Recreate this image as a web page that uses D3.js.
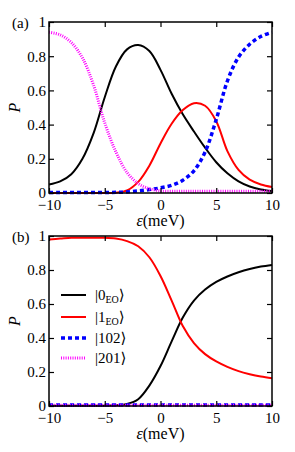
<!DOCTYPE html>
<html>
<head>
<meta charset="utf-8">
<script src="https://cdn.jsdelivr.net/npm/d3@7"></script>
<style>
  body { margin: 0; background: #fff; }
  svg text { font-family: 'Liberation Serif', 'Times New Roman', 'DejaVu Serif', serif !important; fill: #000; }
</style>
</head>
<body>
<div id="vis"></div>
<script>
// detuning values (meV)
var eps = [-10, -9, -8, -7, -6, -5, -4, -3, -2, -1, 0, 1, 2, 3, 4, 5, 6, 7, 8, 9, 10];

// panel (a)
var a0EO = [0.05, 0.068, 0.11, 0.2, 0.35, 0.56, 0.74, 0.84, 0.865, 0.83, 0.72, 0.58, 0.46, 0.36, 0.265, 0.18, 0.115, 0.068, 0.038, 0.021, 0.012];
var a1EO = [0, 0, 0, 0, 0, 0, 0.002, 0.015, 0.065, 0.16, 0.29, 0.405, 0.485, 0.525, 0.51, 0.42, 0.245, 0.135, 0.078, 0.05, 0.035];
var a102 = [0.003, 0.003, 0.003, 0.003, 0.003, 0.003, 0.004, 0.006, 0.012, 0.02, 0.03, 0.045, 0.075, 0.13, 0.24, 0.43, 0.655, 0.795, 0.87, 0.915, 0.94];
var a201 = [0.94, 0.925, 0.88, 0.79, 0.63, 0.41, 0.24, 0.12, 0.055, 0.025, 0.012, 0.01, 0.01, 0.01, 0.01, 0.01, 0.01, 0.01, 0.01, 0.01, 0.01];

// panel (b)
var b0EO = [0.002, 0.002, 0.002, 0.002, 0.002, 0.002, 0.004, 0.012, 0.04, 0.12, 0.235, 0.38, 0.52, 0.62, 0.685, 0.73, 0.762, 0.787, 0.806, 0.82, 0.83];
var b1EO = [0.98, 0.985, 0.99, 0.99, 0.99, 0.99, 0.985, 0.97, 0.94, 0.875, 0.765, 0.62, 0.47, 0.37, 0.305, 0.262, 0.23, 0.205, 0.187, 0.173, 0.163];
var b102 = [0.006, 0.006, 0.006, 0.006, 0.006, 0.006, 0.006, 0.006, 0.006, 0.006, 0.006, 0.006, 0.006, 0.006, 0.006, 0.006, 0.006, 0.006, 0.006, 0.006, 0.006];
var b201 = [0.005, 0.005, 0.005, 0.005, 0.005, 0.005, 0.005, 0.005, 0.005, 0.005, 0.005, 0.005, 0.005, 0.005, 0.005, 0.005, 0.005, 0.005, 0.005, 0.005, 0.005];

var xTicks = [-10, -5, 0, 5, 10];
var yTicks = [0, 0.2, 0.4, 0.6, 0.8, 1];
var legendNames = ['0', '1', '102', '201'];

var serif = "'Liberation Serif', 'Times New Roman', 'DejaVu Serif', serif";

var styles = [
    {color: '#000', width: 2, dash: null},
    {color: '#f00', width: 2, dash: null},
    {color: '#00f', width: 3.5, dash: '4,3'},
    {color: '#f0f', width: 3, dash: '1,1.3'}
];

var svg = d3.select('#vis').append('svg')
    .attr('width', 295)
    .attr('height', 452)
    .attr('font-family', serif);

var x = d3.scaleLinear().domain([-10, 10]).range([49, 272]);

function panel(top, bottom, label, series) {
    var y = d3.scaleLinear().domain([0, 1]).range([bottom, top]);
    var g = svg.append('g');

    var line = d3.line()
        .x((d, i) => x(eps[i]))
        .y(d => y(d))
        .curve(d3.curveCatmullRom.alpha(0.5));

    series.forEach(function(s, k) {
        var st = styles[k];
        g.append('path')
            .attr('d', line(s))
            .attr('fill', 'none')
            .attr('stroke', st.color)
            .attr('stroke-width', st.width)
            .attr('stroke-dasharray', st.dash);
    });

    // ticks on all four sides, inward
    g.append('g')
        .attr('transform', 'translate(0,' + bottom + ')')
        .call(d3.axisBottom(x).tickValues(xTicks).tickSize(-5).tickPadding(6).tickFormat(d3.format('d')));
    g.append('g')
        .attr('transform', 'translate(0,' + top + ')')
        .call(d3.axisTop(x).tickValues(xTicks).tickSize(-5).tickFormat(''));
    g.append('g')
        .attr('transform', 'translate(' + x(-10) + ',0)')
        .call(d3.axisLeft(y).tickValues(yTicks).tickSize(-5).tickPadding(3).tickFormat(d => d === 0 || d === 1 ? d : d3.format('.1f')(d)));
    g.append('g')
        .attr('transform', 'translate(' + x(10) + ',0)')
        .call(d3.axisRight(y).tickValues(yTicks).tickSize(-5).tickFormat(''));

    g.selectAll('.domain').remove();
    g.selectAll('g').attr('font-family', serif).attr('font-size', 15);
    g.selectAll('.tick line').attr('stroke', '#000').attr('stroke-width', 1.2);
    g.selectAll('.tick text').attr('fill', '#000');

    g.append('rect')
        .attr('x', x(-10)).attr('y', top)
        .attr('width', x(10) - x(-10)).attr('height', bottom - top)
        .attr('fill', 'none').attr('stroke', '#000').attr('stroke-width', 1.5);

    g.append('text').attr('x', 12).attr('y', top + 6)
        .attr('font-size', 15).text(label);

    g.append('text')
        .attr('transform', 'translate(20,' + (top + bottom) / 2 + ') rotate(-90)')
        .attr('text-anchor', 'middle')
        .attr('font-size', 16).attr('font-style', 'italic')
        .text('P');

    var xl = g.append('text').attr('x', x(0)).attr('y', bottom + 33)
        .attr('text-anchor', 'middle').attr('font-size', 16);
    xl.append('tspan').attr('font-style', 'italic').text('ε');
    xl.append('tspan').text('(meV)');

    return y;
}

panel(22, 193, '(a)', [a0EO, a1EO, a102, a201]);
panel(236, 406, '(b)', [b0EO, b1EO, b102, b201]);

// legend in panel (b)
var leg = svg.append('g');
legendNames.forEach(function(name, k) {
    var ly = [295, 317, 338, 358][k];
    var st = styles[k];
    leg.append('line')
        .attr('x1', 61).attr('x2', 86).attr('y1', ly).attr('y2', ly)
        .attr('stroke', st.color).attr('stroke-width', st.width)
        .attr('stroke-dasharray', st.dash);
    var t = leg.append('text').attr('x', 95).attr('y', ly + 5).attr('font-size', 15);
    t.append('tspan').text('|' + name);
    if (k < 2) {
        t.append('tspan').attr('dy', 3).attr('font-size', 10).text('EO');
        t.append('tspan').attr('dy', -3).text('⟩');
    } else {
        t.append('tspan').text('⟩');
    }
});
</script>
</body>
</html>
